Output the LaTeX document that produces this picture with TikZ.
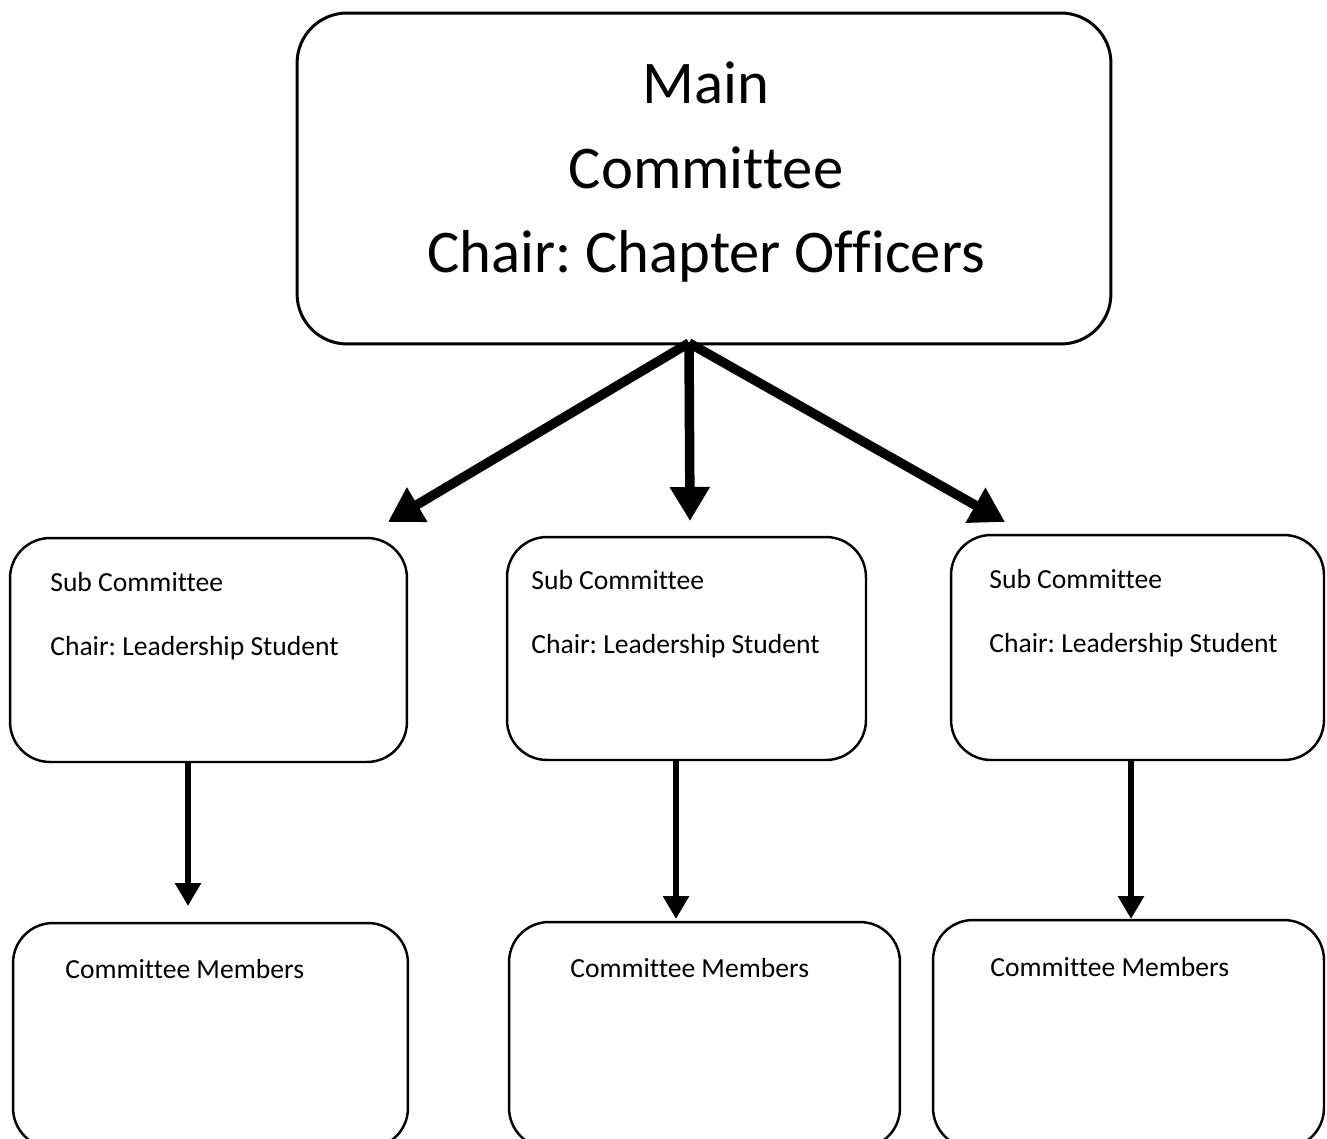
\documentclass[tikz,border=0pt]{standalone}
\usepackage{fontspec}
\setmainfont[Ligatures=NoCommon]{Carlito}
\usetikzlibrary{arrows.meta}
\frenchspacing
\tikzset{
  box/.style={draw=black, line width=1.4pt, rounded corners=0.8cm, inner sep=0pt, outer sep=0pt, fill=white},
  mainbox/.style={box, line width=1.7pt, rounded corners=1.0cm},
  bigtxt/.style={anchor=base, inner sep=0pt, font=\fontsize{34.5}{40}\selectfont},
  smalltxt/.style={anchor=base west, inner sep=0pt, font=\fontsize{15.7}{19}\selectfont},
  bigarrow/.style={line width=5.4pt, -{Triangle[width=0.76cm,length=0.68cm]}},
  smallarrow/.style={line width=3.8pt, -{Triangle[width=0.5cm,length=0.46cm]}}
}
\begin{document}
\begin{tikzpicture}[x=0.02cm, y=-0.02cm]
\useasboundingbox (0,0) rectangle (1327,1138);
\clip (0,0) rectangle (1327,1138);
% main box
\node[mainbox, minimum width=16.28cm, minimum height=6.62cm] (main) at (704,178.5) {};
\node[bigtxt] (mainA) at (706,104) {Main};
\node[bigtxt] (mainB) at (706,189) {Committee};
\node[bigtxt] (mainC) at (706,273) {Chair: Chapter Officers};
% sub committees
\node[box, minimum width=7.94cm, minimum height=4.48cm] (sub1) at (208.5,650) {};
\node[box, minimum width=7.18cm, minimum height=4.46cm] (sub2) at (686.5,648.5) {};
\node[box, minimum width=7.46cm, minimum height=4.5cm] (sub3) at (1137.5,647.5) {};
\node[smalltxt] (s1a) at (50,591) {Sub Committee};
\node[smalltxt] (s1b) at (50,655) {Chair: Leadership Student};
\node[smalltxt] (s2a) at (531,589) {Sub Committee};
\node[smalltxt] (s2b) at (531,653) {Chair: Leadership Student};
\node[smalltxt] (s3a) at (989,588) {Sub Committee};
\node[smalltxt] (s3b) at (989,652) {Chair: Leadership Student};
% members
\node[box, minimum width=7.9cm, minimum height=4.5cm] (mem1) at (210.5,1035.5) {};
\node[box, minimum width=7.82cm, minimum height=4.52cm] (mem2) at (704.5,1035) {};
\node[box, minimum width=7.82cm, minimum height=4.56cm] (mem3) at (1128.5,1034) {};
\node[smalltxt] (m1) at (65,978) {Committee Members};
\node[smalltxt] (m2) at (570,977) {Committee Members};
\node[smalltxt] (m3) at (990,976) {Committee Members};
% arrows from main
\coordinate (hub) at (689,343);
\coordinate (tipL) at (388,522);
\coordinate (tipC) at (690,521);
\coordinate (tipR) at (1005,522);
\draw[bigarrow] (hub) -- (tipL);
\draw[bigarrow] (hub) -- (tipC);
\draw[bigarrow] (hub) -- (tipR);
% arrows to members
\coordinate (d1) at (188,906);
\coordinate (d2) at (676,919);
\coordinate (d3) at (1131,919);
\draw[smallarrow] (d1 |- sub1.south) -- (d1);
\draw[smallarrow] (d2 |- sub2.south) -- (d2);
\draw[smallarrow] (d3 |- sub3.south) -- (d3);
\end{tikzpicture}
\end{document}
